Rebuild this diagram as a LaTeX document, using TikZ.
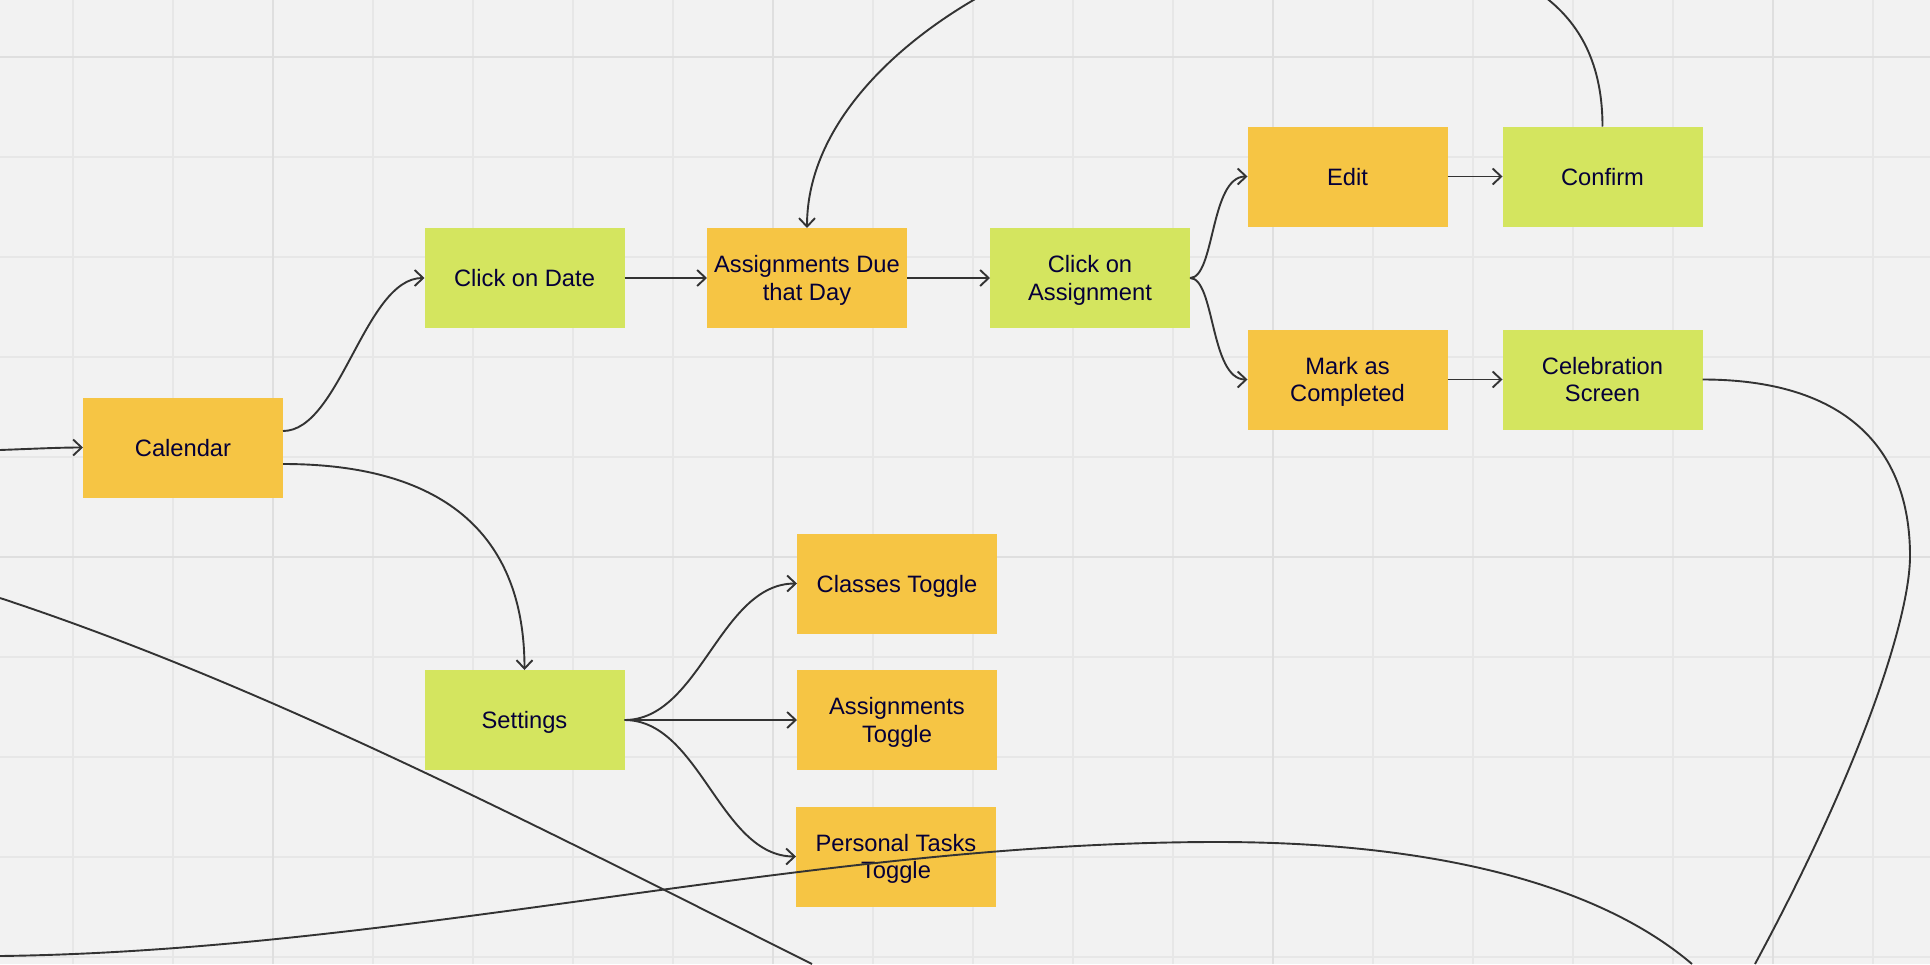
\documentclass[tikz,border=0pt]{standalone}
\usepackage{fontspec}
\setmainfont{Liberation Sans}
\usetikzlibrary{arrows.meta}
\definecolor{bgc}{HTML}{F2F2F2}
\definecolor{gridminor}{HTML}{E7E7E7}
\definecolor{gridmajor}{HTML}{DFDFDF}
\definecolor{stickyorange}{HTML}{F6C544}
\definecolor{stickygreen}{HTML}{D4E55F}
\definecolor{inkc}{HTML}{050038}
\definecolor{linec}{HTML}{333333}
\newcommand{\twol}[2]{\parbox[t]{196pt}{\centering #1\\#2}}
\begin{document}
\begin{tikzpicture}[x=1pt,y=-1pt,
  card/.style={minimum width=200pt, minimum height=100pt, inner sep=0pt, outer sep=0pt, text=inkc,
     font=\fontsize{23.7}{27.3}\selectfont, text height=17pt, text depth=0pt},
  orangecard/.style={card, fill=stickyorange},
  greencard/.style={card, fill=stickygreen},
  twoline/.style={text depth=27.3pt},
  conn/.style={draw=linec, line width=1.9pt},
  arr/.style={conn, -{Straight Barb[length=8.5pt,width=16pt]}},
  gmin/.style={draw=gridminor, line width=1.4pt},
  gmaj/.style={draw=gridmajor, line width=2.2pt}
]
\useasboundingbox (0,0) rectangle (1930,964);
\clip (0,0) rectangle (1930,964);
\fill[bgc] (0,0) rectangle (1930,964);
% grid
\foreach \gx in {73,173,...,1873} \draw[gmin] (\gx,0) -- (\gx,964);
\foreach \gy in {57,157,...,957} \draw[gmin] (0,\gy) -- (1930,\gy);
\foreach \gx in {273,773,1273,1773} \draw[gmaj] (\gx,0) -- (\gx,964);
\foreach \gy in {57,557} \draw[gmaj] (0,\gy) -- (1930,\gy);
% cards
\node[orangecard] (cal) at (183,447.5) {Calendar};
\node[greencard] (cod) at (524.5,278) {Click on Date};
\node[orangecard, twoline] (adt) at (807,278) {\twol{Assignments Due}{that Day}};
\node[greencard, twoline] (coa) at (1090,278) {\twol{Click on}{Assignment}};
\node[orangecard] (edit) at (1347.5,176.5) {Edit};
\node[greencard] (conf) at (1602.5,176.5) {Confirm};
\node[orangecard, twoline] (mark) at (1347.5,379.5) {\twol{Mark as}{Completed}};
\node[greencard, twoline] (cel) at (1602.5,379.5) {\twol{Celebration}{Screen}};
\node[greencard] (set) at (524.5,720) {Settings};
\node[orangecard] (ctog) at (897,583.5) {Classes Toggle};
\node[orangecard, twoline] (atog) at (897,720) {\twol{Assignments}{Toggle}};
\node[orangecard, twoline] (ptog) at (896,856.5) {\twol{Personal Tasks}{Toggle}};
% connectors
\coordinate (inL) at (0,450);
\draw[arr] (inL) .. controls (40,448.5) and (60,447.5) .. (cal.west);
\draw[arr] ([yshift=16.5pt]cal.east) .. controls (340,431) and (365,278) .. (cod.west);
\draw[arr] ([yshift=-16.5pt]cal.east) .. controls (450,464) and (524.5,540) .. (set.north);
\draw[arr] (cod.east) -- (adt.west);
\draw[arr] (conf.north) .. controls (1602.5,-70) and (1380,-60) .. (1150,-60) .. controls (1050,-60) and (807,60) .. (adt.north);
\draw[arr] (adt.east) -- (coa.west);
\draw[arr] (coa.east) .. controls (1215,278) and (1210,176.5) .. (edit.west);
\draw[arr] (coa.east) .. controls (1215,278) and (1210,379.5) .. (mark.west);
\draw[arr] (edit.east) -- (conf.west);
\draw[arr] (mark.east) -- (cel.west);
\draw[arr] (set.east) .. controls (700,720) and (720,583.5) .. (ctog.west);
\draw[arr] (set.east) -- (atog.west);
\draw[arr] (set.east) .. controls (700,720) and (720,856.5) .. (ptog.west);
% lines leaving the canvas
\coordinate (celout) at (1910,556);
\coordinate (celend) at (1755,964);
\draw[conn] (cel.east) .. controls (1843,379.5) and (1910,446) .. (celout) .. controls (1910,616) and (1863,764) .. (celend);
\coordinate (la0) at (0,598);
\coordinate (la1) at (812,964);
\draw[conn] (la0) .. controls (270,687) and (542,829) .. (la1);
\coordinate (lb0) at (0,956);
\coordinate (lbpeak) at (1217,842);
\coordinate (lb1) at (1692,964);
\draw[conn] (lb0) .. controls (406,951) and (811,842) .. (lbpeak) .. controls (1420,842) and (1592,879) .. (lb1);
\end{tikzpicture}
\end{document}
